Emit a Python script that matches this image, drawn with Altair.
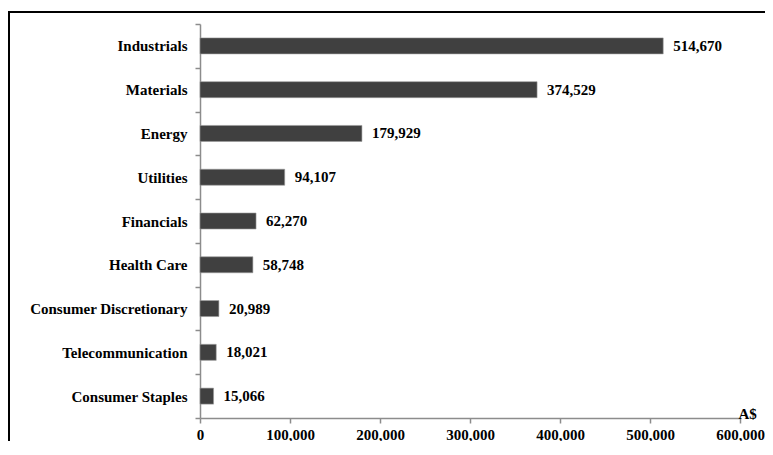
import altair as alt
import pandas as pd

sectors = ["Industrials", "Materials", "Energy", "Utilities", "Financials",
           "Health Care", "Consumer Discretionary", "Telecommunication", "Consumer Staples"]
values = [514670, 374529, 179929, 94107, 62270, 58748, 20989, 18021, 15066]
x_ticks = [0, 100000, 200000, 300000, 400000, 500000, 600000]

df = pd.DataFrame({"sector": sectors, "value": values})

FONT = "'Liberation Serif', 'Times New Roman', Times, serif"

y_enc = alt.Y(
    "sector:N", sort=sectors, title=None,
    scale=alt.Scale(paddingInner=0, paddingOuter=0),
    axis=alt.Axis(
        labelFont=FONT, labelFontSize=15, labelFontWeight="bold", labelColor="black",
        labelPadding=8, tickSize=5, tickColor="#8c8c8c", tickWidth=1.5,
        domainColor="#8c8c8c", domainWidth=1.5, tickBand="extent", grid=False,
    ),
)
x_enc = alt.X(
    "value:Q", title="A$",
    scale=alt.Scale(domain=[0, 600000], nice=False),
    axis=alt.Axis(
        values=x_ticks, format=",.0f", grid=False, labelFlush=False,
        labelFont=FONT, labelFontSize=15, labelFontWeight="bold", labelColor="black",
        labelPadding=4, tickSize=5, tickColor="#8c8c8c", tickWidth=1.5,
        domainColor="#8c8c8c", domainWidth=1.5,
        titleFont=FONT, titleFontSize=15, titleFontWeight="bold", titleColor="black",
        titleX=538, titleY=0, titleAlign="left", titleBaseline="alphabetic",
    ),
)

base = alt.Chart(df)

bars = base.mark_bar(color="#404040", stroke="#9a9a9a", strokeWidth=0.6, size=16).encode(
    y=y_enc, x=x_enc
)

labels = base.mark_text(
    align="left", baseline="middle", dx=10, font=FONT, fontSize=15,
    fontWeight="bold", color="black",
).encode(
    y=y_enc,
    x=x_enc,
    text=alt.Text("value:Q", format=",.0f"),
)

frame_top = alt.Chart(df).mark_rule(color="black", strokeWidth=2).encode(
    x=alt.value(-192), x2=alt.value(800), y=alt.value(-12)
)
frame_left = alt.Chart(df).mark_rule(color="black", strokeWidth=2).encode(
    x=alt.value(-191), y=alt.value(-13), y2=alt.value(500)
)

chart = alt.layer(bars, labels, frame_top, frame_left).properties(
    width=540, height=394,
    autosize=alt.AutoSizeParams(type="none"),
    padding={"left": 192, "top": 16, "right": 25, "bottom": 23},
).configure_view(stroke=None)

chart.save("out.html", embed_options={"renderer": "svg", "actions": False})
